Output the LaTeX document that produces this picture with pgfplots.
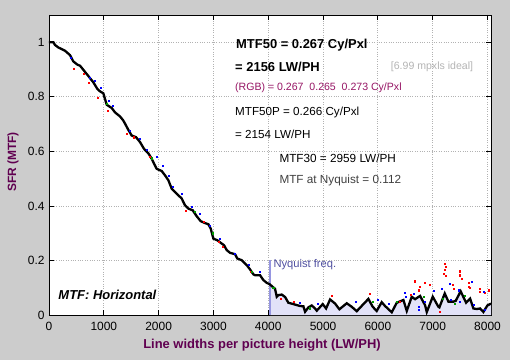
\documentclass[border=0pt]{standalone}
\usepackage{fontspec}
\setmainfont{Liberation Sans}
\usepackage{pgfplots}
\pgfplotsset{compat=1.18}
\definecolor{bg}{RGB}{204,204,204}
\definecolor{labc}{RGB}{96,0,80}
\definecolor{nyq}{RGB}{150,150,225}
\definecolor{nyqfill}{RGB}{226,226,248}
\definecolor{nyqtxt}{RGB}{80,80,160}
\definecolor{rgbc}{RGB}{150,20,100}
\definecolor{ideal}{RGB}{180,180,180}
\definecolor{nyqval}{RGB}{64,64,64}
\begin{document}
\begin{tikzpicture}[x=1bp,y=1bp]
\fill[bg] (-49,-45) rectangle (461,315);
\begin{axis}[at={(0,0)}, anchor=south west, scale only axis,
  width=442bp, height=300bp,
  xmin=0, xmax=8064, ymin=0, ymax=1.1,
  axis background/.style={fill=white},
  xtick={0,1000,2000,3000,4000,5000,6000,7000,8000},
  ytick={0,0.2,0.4,0.6,0.8,1},
  grid=major, grid style={dotted, black!30, line width=0.8bp},
  tick align=inside, major tick length=5bp,
  tick style={black, line width=0.8bp},
  axis line style={line width=0.8bp},
  ticklabel style={font=\fontsize{12}{14}\selectfont},
  /pgf/number format/assume math mode=true,
  /pgf/number format/1000 sep={},
  scaled ticks=false,
  xticklabel style={yshift=-4bp},
  yticklabel style={xshift=-1bp},
]
\addplot[fill=nyqfill, draw=none] coordinates {
(4032,0) (4032,0.112) (4064,0.106) (4124,0.096) (4155,0.067) (4185,0.073) (4246,0.075) (4307,0.066)
(4367,0.045) (4458,0.040) (4580,0.033) (4641,0.032) (4672,0.012) (4732,0.028) (4793,0.035)
(4854,0.024) (4885,0.016) (4994,0.040) (5055,0.024) (5128,0.057) (5219,0.042) (5298,0.021)
(5432,0.043) (5524,0.030) (5615,0.014) (5736,0.040) (5827,0.059) (5906,0.030) (5979,0.015)
(6070,0.047) (6131,0.033) (6253,0.010) (6344,0.045) (6466,0.055) (6527,0.015) (6618,0.067)
(6679,0.058) (6770,0.070) (6861,0.036) (6892,0.011) (7001,0.067) (7105,0.030) (7122,0.028)
(7220,0.079) (7287,0.049) (7379,0.049) (7420,0.052) (7510,0.087) (7610,0.045) (7683,0.060)
(7743,0.024) (7804,0.022) (7865,0.024) (7925,0.011) (7998,0.035) (8064,0.042) (8064,0)
} \closedcycle;
\addplot[nyq, line width=2.5bp] coordinates {(4032,0) (4032,0.2)};
\addplot[only marks, mark=square*, mark size=0.55bp, red, mark options={draw=none}] coordinates {
(443,0.902) (639,0.886) (717,0.853) (882,0.796) (1064,0.750) (1417,0.664) (1538,0.652)
(1831,0.579) (2500,0.384) (2828,0.341) (3090,0.268) (3169,0.250) (3680,0.158)
(5858,0.077) (6679,0.122) (6666,0.124) (6752,0.091) (6770,0.104) (6849,0.118) (6953,0.110)
(7122,0.012) (7208,0.152) (7226,0.189) (7232,0.177) (7226,0.165) (7245,0.143) (7367,0.110)
(7380,0.097) (7487,0.162) (7500,0.158) (7495,0.146) (7531,0.134) (7652,0.118) (7661,0.104)
(7670,0.101) (7853,0.095) (7865,0.085) (7956,0.082) (8029,0.091) (4458,0.050) (5150,0.070)
(4230,0.060) (6400,0.050) (6600,0.075)
};
\addplot[only marks, mark=square*, mark size=0.55bp, blue, mark options={draw=none}] coordinates {
(396,0.944) (748,0.871) (839,0.859) (943,0.835) (1083,0.786) (1162,0.768) (1478,0.676)
(1648,0.646) (1782,0.606) (1965,0.579) (2074,0.548) (2178,0.512) (2257,0.472) (2421,0.445)
(2604,0.396) (2755,0.372) (2938,0.329) (3120,0.280) (3394,0.226) (3637,0.183) (3838,0.158)
(6496,0.082) (6514,0.067) (6648,0.079) (7013,0.089) (7166,0.098) (7318,0.116) (7470,0.091)
(7713,0.122) (7925,0.085) (6739,0.018) (6752,0.030) (6861,0.049) (7330,0.055) (7500,0.049)
(7743,0.037) (7956,0.018) (4580,0.045) (4900,0.040) (5600,0.050) (6000,0.055) (6200,0.040)
};
\addplot[only marks, mark=square*, mark size=0.55bp, green!60!black, mark options={draw=none}] coordinates {
(1060,0.774) (1880,0.575) (2650,0.378) (2980,0.300) (3700,0.160) (4090,0.100) (4750,0.025)
(5900,0.050) (6350,0.050) (6830,0.066) (7180,0.060) (7400,0.040) (7580,0.070)
};
\addplot[black, line width=2.3bp] coordinates {
(0,1.0) (80,1.0) (110,0.990) (170,0.981) (292,0.969) (383,0.953) (443,0.930) (517,0.918)
(566,0.914) (615,0.902) (699,0.881) (810,0.853) (882,0.829) (931,0.820) (991,0.813)
(1022,0.792) (1053,0.771) (1144,0.759) (1204,0.743) (1296,0.728) (1356,0.713) (1405,0.695)
(1447,0.679) (1509,0.658) (1588,0.652) (1661,0.634) (1734,0.609) (1812,0.593) (1874,0.573)
(1916,0.555) (1965,0.536) (2056,0.528) (2117,0.512) (2178,0.494) (2239,0.463) (2330,0.445)
(2421,0.427) (2482,0.402) (2543,0.390) (2622,0.384) (2695,0.362) (2768,0.344) (2847,0.337)
(2907,0.333) (2950,0.317) (2999,0.280) (3071,0.274) (3151,0.262) (3193,0.256) (3242,0.238)
(3303,0.228) (3394,0.223) (3436,0.207) (3516,0.201) (3607,0.183) (3668,0.167) (3729,0.149)
(3759,0.146) (3850,0.146) (3911,0.128) (3972,0.118) (4032,0.112)
(4064,0.106) (4124,0.096) (4155,0.067) (4185,0.073) (4246,0.075) (4307,0.066)
(4367,0.045) (4458,0.040) (4580,0.033) (4641,0.032) (4672,0.012) (4732,0.028) (4793,0.035)
(4854,0.024) (4885,0.016) (4994,0.040) (5055,0.024) (5128,0.057) (5219,0.042) (5298,0.021)
(5432,0.043) (5524,0.030) (5615,0.014) (5736,0.040) (5827,0.059) (5906,0.030) (5979,0.015)
(6070,0.047) (6131,0.033) (6253,0.010) (6344,0.045) (6466,0.055) (6527,0.015) (6618,0.067)
(6679,0.058) (6770,0.070) (6861,0.036) (6892,0.011) (7001,0.067) (7105,0.030) (7122,0.028)
(7220,0.079) (7287,0.049) (7379,0.049) (7420,0.052) (7510,0.087) (7610,0.045) (7683,0.060)
(7743,0.024) (7804,0.022) (7865,0.024) (7925,0.011) (7998,0.035) (8064,0.042)
};
\end{axis}
% annotations (positions in image pixels: x-49, 315-y)
\node[anchor=west, inner sep=0, font=\fontsize{13}{15}\selectfont\bfseries] at (187,270) {MTF50 = 0.267 Cy/Pxl};
\node[anchor=west, inner sep=0, font=\fontsize{13}{15}\selectfont\bfseries] at (186,248.3) {= 2156 LW/PH};
\node[anchor=west, inner sep=0, font=\fontsize{10.6}{12}\selectfont, text=ideal] at (341.7,248.3) {[6.99 mpxls ideal]};
\node[anchor=west, inner sep=0, font=\fontsize{10.6}{12}\selectfont, text=rgbc] at (186,227.7) {(RGB) = 0.267\ \ 0.265\ \ 0.273 Cy/Pxl};
\node[anchor=west, inner sep=0, font=\fontsize{11.7}{14}\selectfont] at (186,202.3) {MTF50P = 0.266 Cy/Pxl};
\node[anchor=west, inner sep=0, font=\fontsize{11.7}{14}\selectfont] at (186,181) {= 2154 LW/PH};
\node[anchor=west, inner sep=0, font=\fontsize{11.8}{14}\selectfont] at (230.3,156.7) {MTF30 = 2959 LW/PH};
\node[anchor=west, inner sep=0, font=\fontsize{11.8}{14}\selectfont, text=nyqval] at (230.3,135) {MTF at Nyquist = 0.112};
\node[anchor=west, inner sep=0, font=\fontsize{11.2}{13}\selectfont, text=nyqtxt] at (224.3,50) {Nyquist freq.};
\node[anchor=west, inner sep=0, font=\fontsize{13}{15}\selectfont\bfseries\itshape] at (9.3,20) {MTF: Horizontal};
\node[inner sep=0, font=\fontsize{13}{15}\selectfont\bfseries, text=labc] at (213,-30) {Line widths per picture height (LW/PH)};
\node[inner sep=0, rotate=90, font=\fontsize{12}{14}\selectfont\bfseries, text=labc] at (-36,153) {SFR (MTF)};
\pgfresetboundingbox
\path[use as bounding box] (-49,-45) rectangle (461,315);
\end{tikzpicture}
\end{document}
